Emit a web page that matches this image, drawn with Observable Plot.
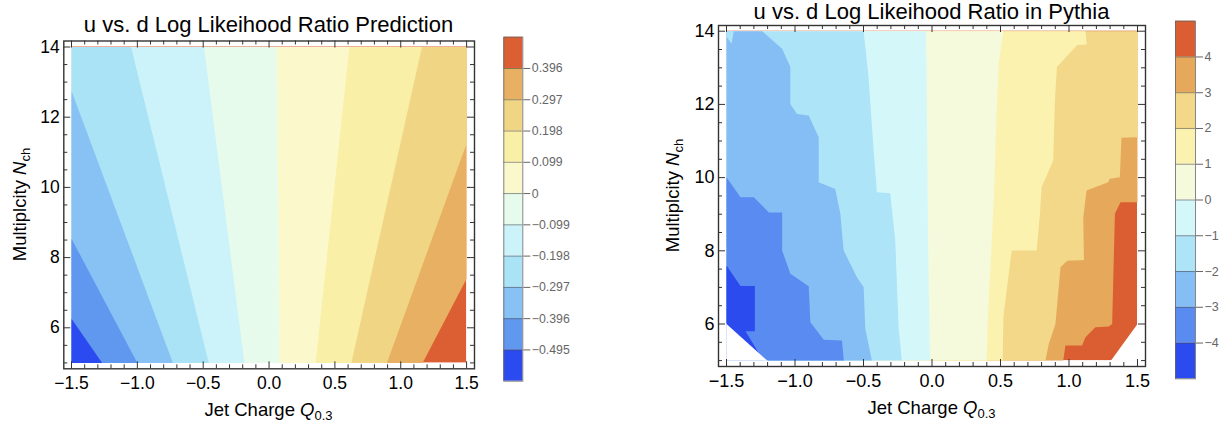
<!DOCTYPE html>
<html><head><meta charset="utf-8">
<script src="https://cdn.jsdelivr.net/npm/d3@7"></script>
<script src="https://cdn.jsdelivr.net/npm/@observablehq/plot@0.6"></script>
<style>
html,body{margin:0;padding:0;background:#fff;}
#root{position:relative;width:1222px;height:421px;overflow:hidden;background:#fff;font-family:"Liberation Sans",Arial,Helvetica,sans-serif;}
#root svg{position:absolute;}
</style></head><body><div id="root"></div>
<script>
// ---------------- data ----------------
const qRange = [-1.5, 1.5];          // Jet charge extent of the sampled region
const nRange = [5, 14];              // multiplicity extent of the sampled region
const xMajor = [-1.5, -1, -0.5, 0, 0.5, 1, 1.5];
const xMajorLabels = ["−1.5", "−1.0", "−0.5", "0.0", "0.5", "1.0", "1.5"];
const yMajor = [6, 8, 10, 12, 14];
const yMajorLabels = ["6", "8", "10", "12", "14"];

// Prediction panel: contour levels, band colours (lowest -> highest), contour lines [Q, N]
const predLevelLabels = ["−0.495", "−0.396", "−0.297", "−0.198", "−0.099", "0", "0.099", "0.198", "0.297", "0.396"];
const predColors = ["#2b4aef", "#6097ef", "#88c2f5", "#aae2f6", "#ccf3f9", "#e7fbed",
                    "#fbf9cc", "#f9efa6", "#f0d684", "#e8b062", "#db5f32"];
const predLines = [
  [[-1.267, 5], [-1.5, 6.26]],
  [[-1.0, 5], [-1.5, 8.54]],
  [[-0.73, 5], [-1.5, 12.75]],
  [[-0.458, 5], [-1.048, 14]],
  [[-0.187, 5], [-0.494, 14]],
  [[0.079, 5], [0.06, 14]],
  [[0.354, 5], [0.61, 14]],
  [[0.625, 5], [1.161, 14]],
  [[0.895, 5], [1.5, 11.25]],
  [[1.166, 5], [1.5, 7.40]]
];

// Pythia panel
const pyLevelLabels = ["−4", "−3", "−2", "−1", "0", "1", "2", "3", "4"];
const pyColors = ["#2b4bef", "#5a8bf0", "#85bef5", "#aee4f8", "#d4f8fa",
                  "#f5fadc", "#fbf2b0", "#f2d888", "#e6a95c", "#da5e31"];
const pyLines = [
  [[-1.231, 5], [-1.361, 5.80], [-1.293, 5.80], [-1.293, 7.04], [-1.398, 7.04], [-1.5, 7.60]],
  [[-0.644, 5], [-0.657, 5.55], [-0.79, 5.57], [-0.888, 6.05], [-0.90, 7.03], [-1.034, 7.37], [-1.094, 8.01],
   [-1.094, 9.05], [-1.191, 9.05], [-1.301, 9.46], [-1.398, 9.46], [-1.5, 10.01]],
  [[-0.439, 5], [-0.487, 5.87], [-0.499, 7.01], [-0.548, 7.28], [-0.645, 8.01], [-0.669, 9.01], [-0.706, 9.69],
   [-0.827, 9.87], [-0.827, 11.10], [-0.900, 11.70], [-0.985, 11.74], [-1.034, 12.01], [-1.034, 13.02],
   [-1.094, 13.52], [-1.24, 14]],
  [[-0.220, 5], [-0.244, 5.91], [-0.268, 8.28], [-0.305, 9.57], [-0.402, 9.60], [-0.431, 11.01], [-0.451, 12.11],
   [-0.463, 12.74], [-0.499, 14]],
  [[-0.014, 5], [-0.026, 7.55], [-0.038, 12.11], [-0.043, 14]],
  [[0.399, 5], [0.404, 5.82], [0.424, 7.37], [0.453, 9.56], [0.467, 11.29], [0.487, 13.11], [0.521, 14]],
  [[0.516, 5], [0.521, 6.19], [0.557, 7.28], [0.582, 8.01], [0.764, 8.01], [0.788, 9.01], [0.800, 9.74],
   [0.885, 10.47], [0.897, 12.11], [0.912, 13.02], [1.06, 13.62], [1.13, 13.64], [1.12, 14]],
  [[0.828, 5], [0.853, 5.46], [0.901, 6.0], [0.938, 7.55], [0.987, 7.73], [1.109, 7.75], [1.104, 8.92],
   [1.128, 9.65], [1.286, 9.87], [1.298, 9.97], [1.371, 10.01], [1.383, 11.09], [1.5, 11.10]],
  [[0.958, 5], [0.974, 5.41], [1.096, 5.41], [1.12, 5.64], [1.193, 5.91], [1.29, 5.93], [1.315, 6.0],
   [1.335, 9.01], [1.376, 9.33], [1.5, 9.33]]
];
const pyIslands = [{band: 3, pts: [[-1.5, 14], [-1.5, 13.85], [-1.463, 13.66], [-1.447, 14]]}];
const pyMissing = [
  [[-1.5, 6.0], [-1.5, 5], [-1.203, 5]],
  [[1.5, 6.0], [1.5, 5], [1.307, 5]]
];

// ---------------- helpers ----------------
const FONT = '"Liberation Sans", Arial, Helvetica, sans-serif';
const xMinor = d3.range(-15, 16).filter(i => i % 5 !== 0).map(i => i / 10);
const yMinor = d3.range(10, 29).map(i => i / 2).filter(v => v % 2 !== 0);

// region of values below a contour line: the line plus the rectangle boundary walked counter-clockwise
function closeLeft(pts) {
  const [q0, q1] = qRange, [n0, n1] = nRange;
  const W = q1 - q0, H = n1 - n0, P = 2 * (W + H), e = 1e-6;
  const tOf = ([q, n]) => {
    if (Math.abs(n - n0) < e) return q - q0;
    if (Math.abs(q - q1) < e) return W + (n - n0);
    if (Math.abs(n - n1) < e) return W + H + (q1 - q);
    return 2 * W + H + (n1 - n);
  };
  const corners = [[W, [q1, n0]], [W + H, [q1, n1]], [2 * W + H, [q0, n1]], [P, [q0, n0]]];
  const all = corners.concat(corners.map(([t, p]) => [t + P, p]));
  const tE = tOf(pts[pts.length - 1]);
  let tS = tOf(pts[0]); if (tS <= tE) tS += P;
  const extra = all.filter(([t]) => t > tE && t < tS).sort((a, b) => a[0] - b[0]).map(d => d[1]);
  return pts.concat(extra);
}

function contourPanel(cfg) {
  const {lines, colors, islands = [], missing = [], width, height, ml, mr, mt, mb, xDom, yDom, fontSize} = cfg;
  const fw = width - ml - mr, fh = height - mt - mb;
  const xy = {x: d => d[0], y: d => d[1]};
  const marks = [];
  marks.push(Plot.rect([0], {x1: () => qRange[0], x2: () => qRange[1], y1: () => nRange[0], y2: () => nRange[1], fill: colors[colors.length - 1]}));
  for (let k = lines.length - 1; k >= 0; k--) {
    marks.push(Plot.line(closeLeft(lines[k]), {...xy, fill: colors[k], stroke: "none"}));
  }
  islands.forEach(is => marks.push(Plot.line(is.pts, {...xy, fill: colors[is.band], stroke: "none"})));
  missing.forEach(m => marks.push(Plot.line(m, {...xy, fill: "white", stroke: "white", strokeWidth: 0.6})));
  const tk = {stroke: "#333", strokeWidth: 1};
  marks.push(
    Plot.tickX(xMinor, {x: d => d, ...tk, insetTop: fh - 4}),
    Plot.tickX(xMinor, {x: d => d, ...tk, insetBottom: fh - 4}),
    Plot.tickX(xMajor, {x: d => d, ...tk, insetTop: fh - 7}),
    Plot.tickX(xMajor, {x: d => d, ...tk, insetBottom: fh - 7}),
    Plot.tickY(yMinor, {y: d => d, ...tk, insetRight: fw - 4}),
    Plot.tickY(yMinor, {y: d => d, ...tk, insetLeft: fw - 4}),
    Plot.tickY(yMajor, {y: d => d, ...tk, insetRight: fw - 7}),
    Plot.tickY(yMajor, {y: d => d, ...tk, insetLeft: fw - 7}),
    Plot.frame({stroke: "#333", strokeWidth: 1.4}),
    Plot.axisX(xMajor, {anchor: "bottom", tickSize: 0, tickPadding: 8, fontSize, label: null,
      tickFormat: d => xMajorLabels[xMajor.indexOf(d)]}),
    Plot.axisY(yMajor, {anchor: "left", tickSize: 0, tickPadding: 4, fontSize, label: null,
      tickFormat: d => yMajorLabels[yMajor.indexOf(d)]})
  );
  return Plot.plot({
    width, height, marginLeft: ml, marginRight: mr, marginTop: mt, marginBottom: mb,
    x: {domain: xDom}, y: {domain: yDom},
    style: {fontFamily: FONT, color: "#000", background: "transparent", overflow: "visible"},
    marks
  });
}

function colorbar(cfg) {
  const {colors, labels, width, height, ml, mr, mt, mb, fontSize} = cfg;
  const idx = colors.map((c, i) => i);
  const bounds = labels.map((l, i) => i + 1);
  return Plot.plot({
    width, height, marginLeft: ml, marginRight: mr, marginTop: mt, marginBottom: mb,
    x: {domain: [0, 1], axis: null}, y: {domain: [0, colors.length]},
    color: {type: "identity"},
    style: {fontFamily: FONT, color: "#000", background: "transparent", overflow: "visible"},
    marks: [
      Plot.rect(idx, {x1: () => 0, x2: () => 1, y1: i => i, y2: i => i + 1, fill: i => colors[i]}),
      Plot.ruleY(bounds, {y: d => d, stroke: "#444", strokeOpacity: 0.55}),
      Plot.frame({stroke: "#666", strokeOpacity: 0.8}),
      Plot.axisY(bounds, {anchor: "right", tickSize: 7, tickPadding: 2, fontSize, label: null,
        color: "#666", tickFormat: b => labels[b - 1]})
    ]
  });
}

const root = document.getElementById("root");
function place(svg, left, top) { svg.style.left = left + "px"; svg.style.top = top + "px"; root.appendChild(svg); }

place(contourPanel({lines: predLines, colors: predColors, width: 485, height: 421, ml: 63.3, mr: 11, mt: 40.5, mb: 52.7,
  xDom: [-1.5585, 1.560], yDom: [4.832, 14.171], fontSize: 17.5}), 0, 0);
place(contourPanel({lines: pyLines, colors: pyColors, islands: pyIslands, missing: pyMissing,
  width: 500, height: 421, ml: 68, mr: 5, mt: 25, mb: 55,
  xDom: [-1.5584, 1.5584], yDom: [4.839, 14.156], fontSize: 18}), 650, 0);
place(colorbar({colors: predColors, labels: predLevelLabels, width: 110, height: 421, ml: 13.3, mr: 77.7, mt: 36.7, mb: 40.3, fontSize: 12.3}), 490, 0);
place(colorbar({colors: pyColors, labels: pyLevelLabels, width: 82, height: 421, ml: 35, mr: 27, mt: 20.7, mb: 42.7, fontSize: 12.5}), 1140, 0);

// titles and axis labels
const ov = d3.create("svg").attr("width", 1222).attr("height", 421)
  .style("left", "0px").style("top", "0px").style("font-family", FONT);
function title(x, y, s) {
  ov.append("text").attr("x", x).attr("y", y).attr("text-anchor", "middle").attr("font-size", 22).text(s);
}
title(268.5, 31.7, "u vs. d Log Likeihood Ratio Prediction");
title(931.5, 18.5, "u vs. d Log Likeihood Ratio in Pythia");
function xLabel(x, y) {
  const t = ov.append("text").attr("x", x).attr("y", y).attr("text-anchor", "middle").attr("font-size", 18.5);
  t.append("tspan").text("Jet Charge ");
  t.append("tspan").attr("font-style", "italic").text("Q");
  t.append("tspan").attr("font-size", 13).attr("dy", 4).text("0.3");
}
xLabel(268.5, 415.5); xLabel(931.5, 414);
function yLabel(x, y) {
  const t = ov.append("text").attr("transform", `translate(${x},${y}) rotate(-90)`).attr("text-anchor", "middle").attr("font-size", 18.5);
  t.append("tspan").text("Multiplcity ");
  t.append("tspan").attr("font-style", "italic").text("N");
  t.append("tspan").attr("font-size", 13).attr("dy", 4).text("ch");
}
yLabel(26, 204.5); yLabel(679, 195.5);
root.appendChild(ov.node());
</script></body></html>
